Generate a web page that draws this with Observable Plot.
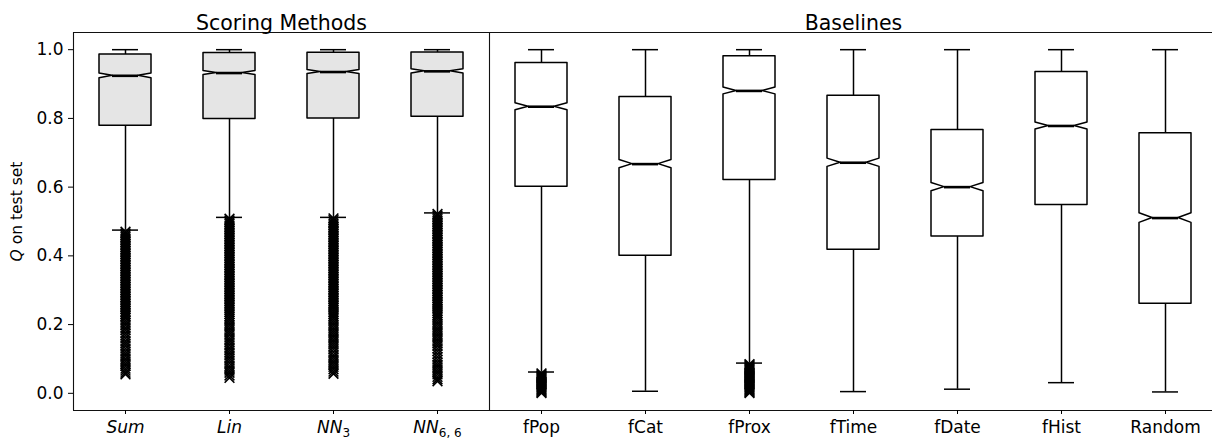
<!DOCTYPE html>
<html><head><meta charset="utf-8">
<script src="https://cdn.jsdelivr.net/npm/d3@7"></script>
<script src="https://cdn.jsdelivr.net/npm/@observablehq/plot@0.6"></script>
<style>
html,body{margin:0;padding:0;background:#fff;overflow:hidden;}
</style></head><body><div id="chart"></div>
<script>
// ---- data ----
const categories = ["Sum","Lin","NN3","NN6,6","fPop","fCat","fProx","fTime","fDate","fHist","Random"];
const tickLabels = ["Sum","Lin","NN_3","NN_6, 6","fPop","fCat","fProx","fTime","fDate","fHist","Random"];
const groups = ["Scoring Methods","Scoring Methods","Scoring Methods","Scoring Methods",
  "Baselines","Baselines","Baselines","Baselines","Baselines","Baselines","Baselines"];
const yTicks = [0.0, 0.2, 0.4, 0.6, 0.8, 1.0];
const whiskerHigh = [1.0, 1.0, 1.0, 1.0, 1.0, 1.0, 1.0, 1.0, 1.0, 1.0, 1.0];
const q3 = [0.986, 0.990, 0.991, 0.992, 0.961, 0.862, 0.981, 0.866, 0.766, 0.935, 0.757];
const median = [0.924, 0.932, 0.935, 0.937, 0.834, 0.667, 0.880, 0.671, 0.600, 0.778, 0.510];
const q1 = [0.779, 0.798, 0.800, 0.805, 0.601, 0.400, 0.621, 0.418, 0.456, 0.548, 0.261];
const whiskerLow = [0.475, 0.512, 0.512, 0.525, 0.062, 0.006, 0.088, 0.005, 0.012, 0.031, 0.004];
const notchHalf = [0.007, 0.006, 0.006, 0.006, 0.010, 0.012, 0.010, 0.012, 0.012, 0.010, 0.014];

const outSum = [0.470,0.465,0.460,0.455,0.450,0.445,0.440,0.435,0.430,0.425,0.420,0.415,0.410,0.405,0.400,0.395,0.390,0.385,0.380,0.375,0.370,0.365,0.360,0.355,0.350,0.345,0.340,0.335,0.330,0.325,0.320,0.315,0.310,0.305,0.300,0.295,0.290,0.285,0.280,0.275,0.270,0.265,0.260,0.255,0.250,0.245,0.240,0.235,0.230,0.225,0.220,0.212,0.205,0.198,0.190,0.183,0.175,0.168,0.160,0.152,0.145,0.138,0.130,0.122,0.115,0.108,0.100,0.093,0.086,0.079,0.072,0.066,0.060,0.055];
const outLin = [0.508,0.503,0.498,0.493,0.488,0.483,0.478,0.473,0.468,0.463,0.458,0.453,0.448,0.443,0.438,0.433,0.428,0.423,0.418,0.413,0.408,0.403,0.398,0.393,0.388,0.383,0.378,0.373,0.368,0.363,0.358,0.353,0.348,0.343,0.338,0.333,0.328,0.323,0.318,0.313,0.308,0.303,0.298,0.293,0.288,0.283,0.278,0.273,0.268,0.263,0.258,0.253,0.248,0.242,0.236,0.230,0.224,0.218,0.212,0.205,0.198,0.191,0.184,0.177,0.170,0.162,0.155,0.148,0.140,0.132,0.125,0.118,0.110,0.102,0.095,0.088,0.080,0.073,0.066,0.060,0.052,0.045];
const outNN3 = [0.509,0.504,0.499,0.494,0.489,0.484,0.479,0.474,0.469,0.464,0.459,0.454,0.449,0.444,0.439,0.434,0.429,0.424,0.419,0.414,0.409,0.404,0.399,0.394,0.389,0.384,0.379,0.374,0.369,0.364,0.359,0.354,0.349,0.344,0.339,0.334,0.329,0.324,0.319,0.314,0.309,0.304,0.299,0.294,0.289,0.284,0.279,0.274,0.269,0.264,0.259,0.254,0.249,0.243,0.237,0.231,0.225,0.219,0.212,0.205,0.198,0.191,0.184,0.177,0.170,0.163,0.156,0.149,0.142,0.135,0.128,0.120,0.112,0.105,0.098,0.091,0.084,0.077,0.070,0.063,0.057];
const outNN66 = [0.522,0.517,0.512,0.507,0.502,0.497,0.492,0.487,0.482,0.477,0.472,0.467,0.462,0.457,0.452,0.447,0.442,0.437,0.432,0.427,0.422,0.417,0.412,0.407,0.402,0.397,0.392,0.387,0.382,0.377,0.372,0.367,0.362,0.357,0.352,0.347,0.342,0.337,0.332,0.327,0.322,0.317,0.312,0.307,0.302,0.297,0.292,0.287,0.282,0.277,0.272,0.267,0.262,0.257,0.252,0.246,0.240,0.234,0.228,0.222,0.215,0.208,0.201,0.194,0.187,0.180,0.173,0.166,0.159,0.152,0.145,0.138,0.130,0.122,0.114,0.106,0.098,0.090,0.083,0.076,0.069,0.062,0.055,0.048,0.041,0.035];
const outFPop = [0.058,0.055,0.052,0.049,0.046,0.043,0.040,0.037,0.034,0.031,0.028,0.025,0.022,0.019,0.016,0.013,0.010,0.007,0.004,0.001];
const outFProx = [0.085,0.082,0.079,0.076,0.073,0.070,0.067,0.064,0.061,0.058,0.055,0.052,0.049,0.046,0.043,0.040,0.037,0.034,0.031,0.028,0.025,0.022,0.019,0.016,0.013,0.010,0.007,0.004,0.001];
const outliers = [outSum, outLin, outNN3, outNN66, outFPop, [], outFProx, [], [], [], []];

// ---- derived tables ----
const BOX = 0.25, NECK = 0.125;
const boxes = categories.map((c, i) => ({
  i, c, group: groups[i], high: whiskerHigh[i], q3: q3[i], med: median[i], q1: q1[i], low: whiskerLow[i], n: notchHalf[i]
}));
const shape = boxes.flatMap(b => [
  {i: b.i, g: b.group, y: b.q1, x1: b.i - BOX, x2: b.i + BOX},
  {i: b.i, g: b.group, y: b.med - b.n, x1: b.i - BOX, x2: b.i + BOX},
  {i: b.i, g: b.group, y: b.med, x1: b.i - NECK, x2: b.i + NECK},
  {i: b.i, g: b.group, y: b.med + b.n, x1: b.i - BOX, x2: b.i + BOX},
  {i: b.i, g: b.group, y: b.q3, x1: b.i - BOX, x2: b.i + BOX}
]);
const points = outliers.flatMap((arr, i) => arr.map(v => ({i, v})));
const groupNames = [...new Set(groups)];
const titles = groupNames.map(g => ({g, x: d3.mean(groups.map((gg, i) => gg === g ? i : null).filter(v => v !== null))}));
const divider = groups.findIndex(g => g === "Baselines") - 0.5;

const chart = Plot.plot({
  width: 1217, height: 441,
  marginTop: 32, marginBottom: 31, marginLeft: 73, marginRight: 0,
  style: {fontFamily: "DejaVu Sans", fontSize: "17px", color: "black", background: "white", maxWidth: "none"},
  x: {type: "linear", domain: [-0.5, categories.length - 0.5]},
  y: {domain: [-0.05, 1.05]},
  marks: [
    Plot.ruleY([-0.05, 1.05], {stroke: "#111", strokeWidth: 1.1}),
    Plot.ruleX([-0.5, divider], {stroke: "#111", strokeWidth: 1.1}),
    Plot.axisY({ticks: yTicks, tickFormat: d3.format(".1f"), tickSize: 5, tickPadding: 5, label: null, fontSize: 17}),
    Plot.axisX({ticks: d3.range(categories.length), tickFormat: i => tickLabels[i], tickSize: 4, tickPadding: 6, label: null, fontSize: 17}),
    Plot.ruleX(boxes, {x: "i", y1: "q3", y2: "high", stroke: "black", strokeWidth: 1.5}),
    Plot.ruleX(boxes, {x: "i", y1: "low", y2: "q1", stroke: "black", strokeWidth: 1.5}),
    Plot.ruleY(boxes, {y: "high", x1: d => d.i - NECK, x2: d => d.i + NECK, stroke: "black", strokeWidth: 1.5}),
    Plot.ruleY(boxes, {y: "low", x1: d => d.i - NECK, x2: d => d.i + NECK, stroke: "black", strokeWidth: 1.5}),
    Plot.areaX(shape.filter(d => d.g === "Scoring Methods"), {y: "y", x1: "x1", x2: "x2", z: "i", fill: "#e5e5e5", stroke: "black", strokeWidth: 1.5, curve: "linear"}),
    Plot.areaX(shape.filter(d => d.g === "Baselines"), {y: "y", x1: "x1", x2: "x2", z: "i", fill: "white", stroke: "black", strokeWidth: 1.5, curve: "linear"}),
    Plot.ruleY(boxes, {y: "med", x1: d => d.i - NECK, x2: d => d.i + NECK, stroke: "black", strokeWidth: 2.6}),
    Plot.dot(points, {x: "i", y: "v", symbol: "times", r: 4.5, stroke: "black", strokeWidth: 1.6}),
    Plot.text(titles, {x: "x", text: "g", frameAnchor: "top", dy: -17, fontSize: 20.5}),
    Plot.text(["Q on test set"], {frameAnchor: "left", textAnchor: "middle", dx: -56, dy: -10, rotate: -90, fontSize: 15.5, text: d => d})
  ]
});
document.getElementById("chart").appendChild(chart);

// italic / subscript styling of some labels
const NS = "http://www.w3.org/2000/svg";
chart.querySelectorAll("text").forEach(t => {
  const s = t.textContent;
  const idx = tickLabels.indexOf(s);
  if (idx >= 0 && groups[idx] === "Scoring Methods") {
    t.setAttribute("font-style", "italic");
    const parts = s.split("_");
    if (parts.length === 2) {
      t.textContent = parts[0];
      const ts = document.createElementNS(NS, "tspan");
      ts.setAttribute("dy", "4");
      ts.setAttribute("font-size", "12");
      ts.setAttribute("font-style", "normal");
      ts.textContent = parts[1];
      t.appendChild(ts);
    }
  } else if (s === "Q on test set") {
    t.textContent = "";
    const a = document.createElementNS(NS, "tspan");
    a.setAttribute("font-style", "italic");
    a.textContent = "Q";
    const b = document.createElementNS(NS, "tspan");
    b.textContent = " on test set";
    t.appendChild(a); t.appendChild(b);
  }
});
</script></body></html>
